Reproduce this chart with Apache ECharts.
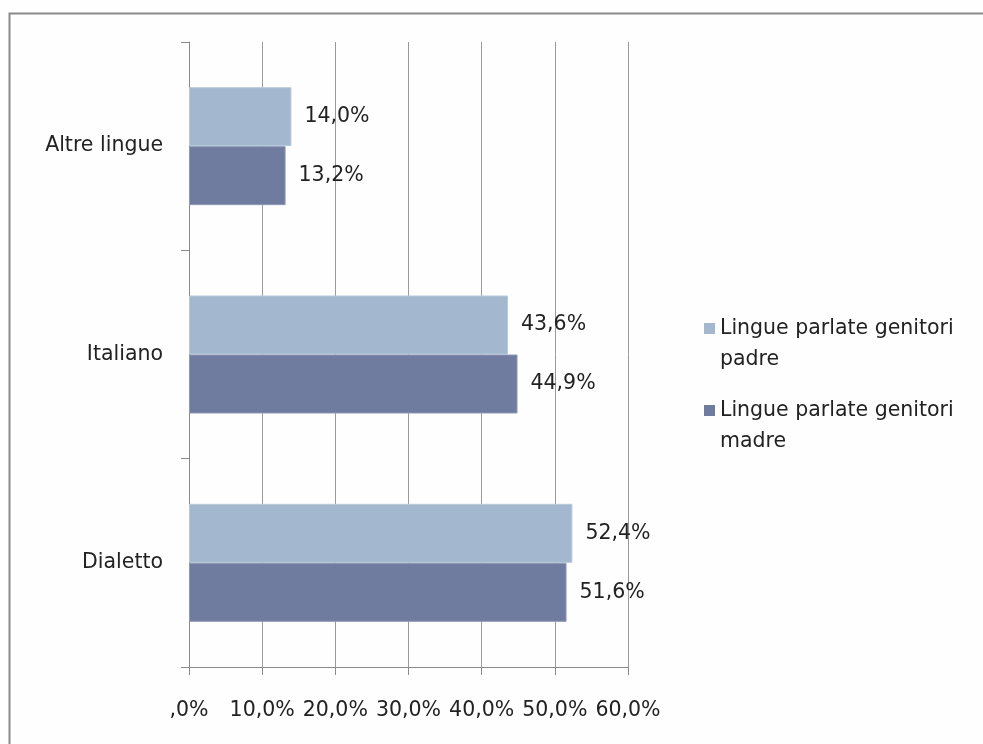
<!DOCTYPE html>
<html>
<head>
<meta charset="utf-8">
<script src="https://cdn.jsdelivr.net/npm/echarts@6/dist/echarts.min.js"></script>
<style>
html,body{margin:0;padding:0;background:#fefefe;}
#c{width:983px;height:744px;}
</style>
</head>
<body>
<div id="c"></div>
<script>
const categories = ['Altre lingue', 'Italiano', 'Dialetto'];
const seriesNames = ['Lingue parlate genitori padre', 'Lingue parlate genitori madre'];
const legendLines = [['Lingue parlate genitori', 'padre'], ['Lingue parlate genitori', 'madre']];
const padre = [14.0, 43.6, 52.4];
const madre = [13.2, 44.9, 51.6];
const xTicks = [0, 10, 20, 30, 40, 50, 60];

const FONT = 'DejaVu Sans';
const FS = 20.5;
const fmtPct = v => (v === 0 ? ',0' : v.toFixed(1).replace('.', ',')) + '%';

function legendFor(i, top) {
  return {
    data: [seriesNames[i]],
    left: 704, top: top, orient: 'vertical', padding: 0,
    icon: 'rect', itemWidth: 11, itemHeight: 11,
    itemStyle: { borderWidth: 0 },
    formatter: () => ' \n' + legendLines[i].join('\n'),
    textStyle: { fontFamily: FONT, fontSize: FS, color: '#222', lineHeight: 31 }
  };
}

const chart = echarts.init(document.getElementById('c'));
chart.setOption({
  backgroundColor: '#fefefe',
  animation: false,
  textStyle: { fontFamily: FONT },
  graphic: [{
    type: 'rect', silent: true,
    shape: { x: 9.5, y: 13.5, width: 1000, height: 800 },
    style: { fill: 'none', stroke: '#8a8a8a', lineWidth: 2 }
  }],
  grid: { left: 189, top: 42, width: 439, height: 625, containLabel: false },
  legend: [legendFor(0, 282), legendFor(1, 364)],
  xAxis: {
    type: 'value', min: 0, max: 60, interval: 10,
    axisLine: { show: true, lineStyle: { color: '#8a8a8a', width: 1 } },
    axisTick: { show: true, length: 8, lineStyle: { color: '#8a8a8a' } },
    splitLine: { show: true, lineStyle: { color: '#9a9a9a', width: 1 } },
    axisLabel: {
      margin: 33, fontFamily: FONT, fontSize: FS, color: '#222',
      formatter: v => xTicks.includes(v) ? fmtPct(v) : ''
    }
  },
  yAxis: {
    type: 'category', data: categories, inverse: true,
    axisLine: { show: true, lineStyle: { color: '#8a8a8a', width: 1 } },
    axisTick: { show: true, length: 8, alignWithLabel: false, lineStyle: { color: '#8a8a8a' } },
    axisLabel: { margin: 26, fontFamily: FONT, fontSize: FS, color: '#222' }
  },
  series: [{
    name: seriesNames[0], type: 'bar', data: padre,
    barWidth: 59, barGap: '0%',
    itemStyle: { color: '#a3b8ce', borderColor: '#b9c9da', borderWidth: 1 },
    label: { show: true, position: 'right', distance: 13, fontFamily: FONT, fontSize: FS, color: '#222', formatter: p => fmtPct(p.value) }
  }, {
    name: seriesNames[1], type: 'bar', data: madre,
    barWidth: 59, barGap: '0%',
    itemStyle: { color: '#707ba0', borderColor: '#8f98b6', borderWidth: 1 },
    label: { show: true, position: 'right', distance: 13, fontFamily: FONT, fontSize: FS, color: '#222', formatter: p => fmtPct(p.value) }
  }]
});
</script>
</body>
</html>
